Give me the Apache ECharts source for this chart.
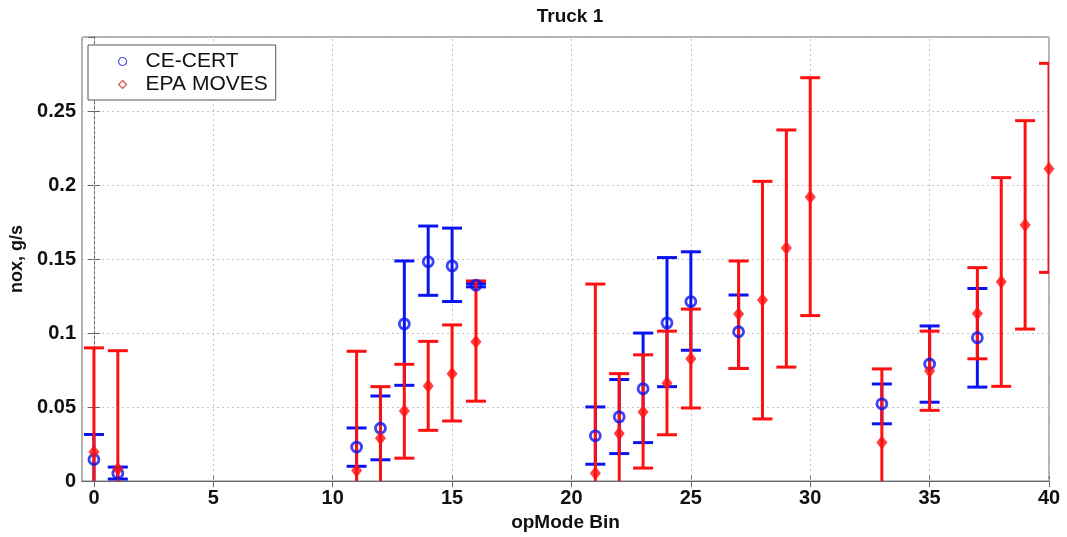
<!DOCTYPE html>
<html>
<head>
<meta charset="utf-8">
<script src="https://cdn.jsdelivr.net/npm/echarts@6/dist/echarts.min.js"></script>
<style>
  html, body { margin: 0; padding: 0; background: #fff; }
  #chart { width: 1067px; height: 537px; }
</style>
</head>
<body>
<div id="chart"></div>
<script>
// CE-CERT (blue): opMode bin, mean, lower / upper error bound
const blueX  = [0, 1, 11, 12, 13, 14, 15, 16, 21, 22, 23, 24, 25, 27, 33, 35, 37]
const blueY  = [0.0146, 0.0053, 0.023, 0.0357, 0.1062, 0.1482, 0.1454, 0.1324, 0.0306, 0.0434, 0.0624, 0.1069, 0.1213, 0.1009, 0.0522, 0.0791, 0.0969]
const blueLo = [-0.002, 0.0014, 0.010, 0.0144, 0.0647, 0.1255, 0.1213, 0.1312, 0.0114, 0.0186, 0.026, 0.0638, 0.0884, 0.0761, 0.0387, 0.0533, 0.0635]
const blueHi = [0.0315, 0.0095, 0.0359, 0.0575, 0.1487, 0.1723, 0.1709, 0.1334, 0.0501, 0.0686, 0.100, 0.151, 0.1549, 0.1257, 0.0656, 0.1048, 0.1301]

// EPA MOVES (red)
const redX  = [0, 1, 11, 12, 13, 14, 15, 16, 21, 22, 23, 24, 25, 27, 28, 29, 30, 33, 35, 37, 38, 39, 40]
const redY  = [0.0197, 0.0081, 0.0072, 0.029, 0.0473, 0.0642, 0.0726, 0.0942, 0.0053, 0.0322, 0.0466, 0.0661, 0.0826, 0.1129, 0.1224, 0.1575, 0.192, 0.026, 0.0744, 0.1132, 0.1347, 0.173, 0.211]
const redLo = [-0.05, -0.072, -0.073, -0.006, 0.0155, 0.0343, 0.0406, 0.054, -0.12, -0.008, 0.0088, 0.0313, 0.0494, 0.0761, 0.042, 0.077, 0.1118, -0.024, 0.0478, 0.0826, 0.064, 0.1027, 0.141]
const redHi = [0.090, 0.0881, 0.0877, 0.0638, 0.0789, 0.0944, 0.1055, 0.1352, 0.1331, 0.0726, 0.0853, 0.1013, 0.1162, 0.1487, 0.2025, 0.2372, 0.2725, 0.0758, 0.1013, 0.1442, 0.205, 0.2435, 0.2822]

// tick labels
const xTicks = [0, 5, 10, 15, 20, 25, 30, 35, 40]

const FONT = 'Liberation Sans, Arial, sans-serif'
const BLUE = '#0a14f0'
const RED = '#ff1010'
const AXIS = '#666'
const GRID = '#c4c4c4'

function toPoints(xs, ys) {
  return xs.map((x, i) => [x, ys[i]])
}
function toBars(xs, lo, hi) {
  return xs.map((x, i) => [x, lo[i], hi[i]])
}

// vertical line + two caps
function errorBar(color) {
  return function (params, api) {
    const x = api.value(0)
    const lo = api.coord([x, api.value(1)])
    const hi = api.coord([x, api.value(2)])
    const w = 10
    const style = { stroke: color, lineWidth: 3 }
    return {
      type: 'group',
      children: [
        { type: 'line', shape: { x1: lo[0], y1: lo[1], x2: hi[0], y2: hi[1] }, style },
        { type: 'line', shape: { x1: hi[0] - w, y1: hi[1], x2: hi[0] + w, y2: hi[1] }, style },
        { type: 'line', shape: { x1: lo[0] - w, y1: lo[1], x2: lo[0] + w, y2: lo[1] }, style }
      ]
    }
  }
}

let myChart = echarts.init(document.getElementById('chart'))

const option = {
  animation: false,
  backgroundColor: '#fff',
  title: {
    text: 'Truck 1',
    left: 565,
    textAlign: 'center',
    top: 2,
    textStyle: { fontFamily: FONT, fontWeight: 'bold', fontSize: 19, color: '#111' }
  },
  legend: {
    orient: 'vertical',
    left: 88,
    top: 45,
    padding: [6, 8, 5, 30],
    itemGap: 2,
    itemWidth: 8,
    itemHeight: 8,
    backgroundColor: '#fff',
    borderColor: '#555',
    borderWidth: 1,
    textStyle: { fontFamily: FONT, fontSize: 21, color: '#111', padding: [0, 0, 0, 14] },
    data: [
      { name: 'CE-CERT', icon: 'circle', itemStyle: { color: 'rgba(0,0,0,0)', borderColor: '#5050e0', borderWidth: 1.2 } },
      { name: 'EPA MOVES', icon: 'diamond', itemStyle: { color: 'rgba(0,0,0,0)', borderColor: '#d05050', borderWidth: 1.2 } }
    ]
  },
  grid: { left: 82, right: 18, top: 37, bottom: 55, show: true, borderColor: AXIS, borderWidth: 1 },
  xAxis: [
    {
      type: 'value',
      min: -0.5,
      max: 40,
      name: 'opMode Bin',
      nameLocation: 'middle',
      nameGap: 30,
      nameTextStyle: { fontFamily: FONT, fontWeight: 'bold', fontSize: 19, color: '#111' },
      axisLine: { show: true, lineStyle: { color: AXIS } },
      axisTick: { show: true, inside: true, length: 6, customValues: xTicks, lineStyle: { color: AXIS } },
      axisLabel: { customValues: xTicks, margin: 7, fontFamily: FONT, fontWeight: 'bold', fontSize: 20, color: '#111' },
      splitLine: { show: false }
    },
    {
      type: 'value',
      position: 'top',
      min: -0.5,
      max: 40,
      axisLine: { show: true, lineStyle: { color: AXIS } },
      axisTick: { show: true, inside: true, length: 6, customValues: xTicks, lineStyle: { color: AXIS } },
      axisLabel: { show: false },
      splitLine: { show: false }
    }
  ],
  yAxis: [
    {
      type: 'value',
      min: 0,
      max: 0.3,
      interval: 0.05,
      name: 'nox, g/s',
      nameLocation: 'middle',
      nameGap: 49,
      nameTextStyle: { fontFamily: FONT, fontWeight: 'bold', fontSize: 18, color: '#111' },
      axisLine: { show: true, lineStyle: { color: AXIS } },
      axisTick: { show: true, inside: true, length: 6, lineStyle: { color: AXIS } },
      axisLabel: {
        margin: 6, showMaxLabel: false,
        fontFamily: FONT, fontWeight: 'bold', fontSize: 20, color: '#111',
        formatter: v => String(+v.toFixed(2))
      },
      splitLine: { show: true, lineStyle: { color: GRID, type: [2, 3], width: 1 } }
    },
    {
      type: 'value',
      position: 'right',
      min: 0,
      max: 0.3,
      interval: 0.05,
      axisLine: { show: true, lineStyle: { color: AXIS } },
      axisTick: { show: true, inside: true, length: 6, lineStyle: { color: AXIS } },
      axisLabel: { show: false },
      splitLine: { show: false }
    }
  ],
  series: [
    {
      // vertical grid lines at the x ticks
      type: 'line',
      name: 'grid',
      data: [],
      z: 1,
      silent: true,
      markLine: {
        z: 1,
        silent: true,
        symbol: 'none',
        label: { show: false },
        lineStyle: { color: GRID, type: [2, 3], width: 1 },
        data: xTicks.map(v => ({ xAxis: v }))
      }
    },
    {
      type: 'custom',
      name: 'CE-CERT',
      renderItem: errorBar(BLUE),
      encode: { x: 0, y: [1, 2] },
      data: toBars(blueX, blueLo, blueHi),
      clip: true,
      z: 6
    },
    {
      type: 'custom',
      name: 'EPA MOVES',
      renderItem: errorBar(RED),
      encode: { x: 0, y: [1, 2] },
      data: toBars(redX, redLo, redHi),
      clip: true,
      z: 6
    },
    {
      type: 'scatter',
      name: 'CE-CERT',
      symbol: 'circle',
      symbolSize: 10,
      itemStyle: { color: 'rgba(0,0,0,0)', borderColor: BLUE, borderWidth: 2.8 },
      data: toPoints(blueX, blueY),
      clip: true,
      z: 7
    },
    {
      type: 'scatter',
      name: 'EPA MOVES',
      symbol: 'diamond',
      symbolSize: [11, 14],
      itemStyle: { color: RED },
      data: toPoints(redX, redY),
      clip: true,
      z: 8
    }
  ]
}

myChart.setOption(option)
window.onresize = () => {
  myChart.resize()
}
</script>
</body>
</html>
